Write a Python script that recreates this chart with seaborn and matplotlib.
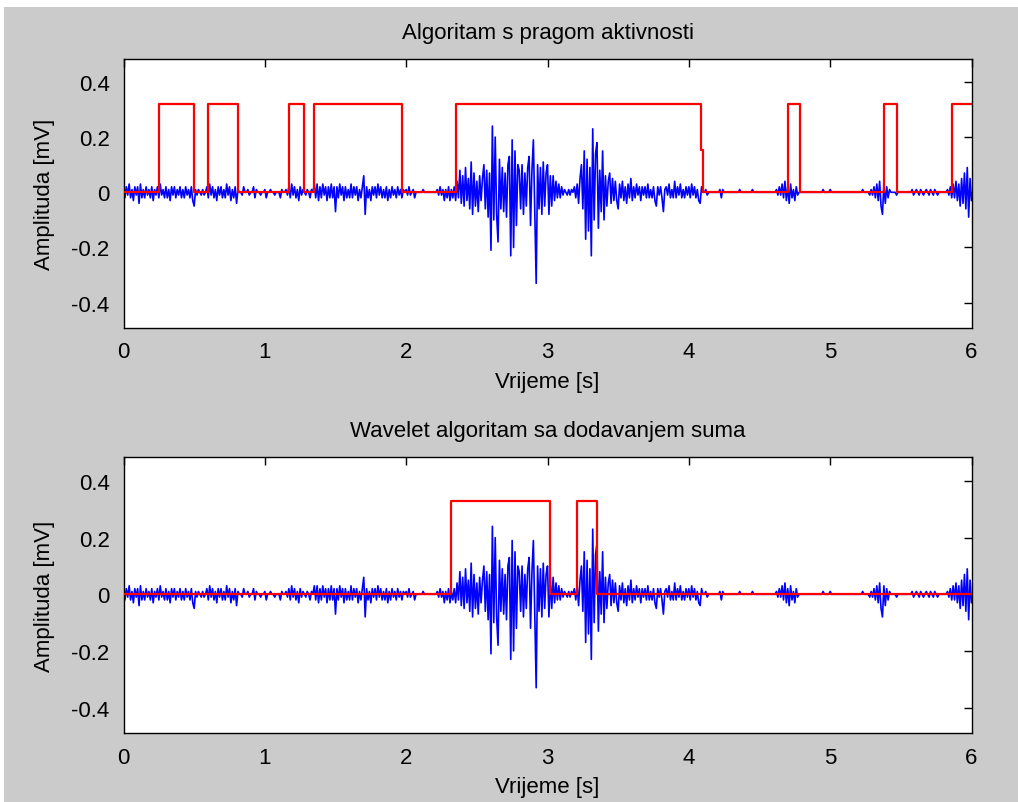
import numpy as np
import pandas as pd
import matplotlib
matplotlib.use("Agg")
import matplotlib.pyplot as plt
import seaborn as sns
from matplotlib.patches import Rectangle

# ---------------- data ----------------
sample_step = 0.01  # s
emg_signal = [
    # 0.00 - 0.49
    0.01, -0.02, 0.02, -0.01, 0.03, -0.02, 0.01, -0.03, 0.02, -0.01,
    0.02, -0.04, 0.03, -0.02, 0.01, -0.02, 0.02, -0.01, 0.01, -0.02,
    0.02, -0.03, 0.01, -0.01, 0.02, -0.02, 0.03, -0.01, 0.01, -0.02,
    0.02, -0.02, 0.01, -0.03, 0.02, -0.01, 0.02, -0.02, 0.01, -0.01,
    0.02, -0.02, 0.01, -0.02, 0.02, -0.01, 0.01, -0.02, 0.02, -0.03,
    # 0.50 - 0.99
    -0.05, 0.01, -0.01, 0.01, 0.00, -0.01, 0.01, -0.01, 0.00, 0.02,
    -0.02, 0.03, -0.01, 0.02, -0.02, 0.01, -0.03, 0.02, -0.01, 0.02,
    -0.02, 0.01, -0.02, 0.03, -0.01, 0.02, -0.03, 0.01, -0.02, 0.02,
    -0.04, 0.01, 0.00, 0.00, -0.01, 0.02, 0.00, 0.00, 0.01, -0.01,
    0.00, 0.00, 0.02, -0.02, 0.01, 0.00, 0.00, -0.01, 0.00, 0.00,
    # 1.00 - 1.49
    0.01, -0.02, 0.00, 0.00, 0.01, 0.00, 0.00, -0.01, 0.00, 0.00,
    0.00, -0.02, 0.01, 0.00, 0.00, 0.01, -0.01, 0.02, -0.02, 0.03,
    -0.01, 0.02, -0.02, 0.01, -0.03, 0.02, -0.01, 0.01, 0.00, -0.01,
    0.01, 0.00, -0.02, 0.01, 0.00, 0.03, -0.02, 0.03, -0.03, 0.02,
    -0.02, 0.03, -0.01, 0.02, -0.03, 0.02, -0.02, 0.03, -0.02, 0.02,
    # 1.50 - 1.99
    -0.07, 0.02, -0.02, 0.03, -0.01, 0.02, -0.03, 0.02, -0.02, 0.01,
    -0.02, 0.03, -0.02, 0.02, -0.01, 0.02, -0.03, 0.01, -0.02, 0.02,
    0.06, -0.08, 0.02, -0.02, 0.01, -0.03, 0.02, -0.01, 0.02, -0.02,
    0.03, -0.01, 0.02, -0.02, 0.01, -0.02, 0.02, -0.03, 0.01, -0.02,
    0.02, -0.01, 0.01, -0.02, 0.02, -0.01, 0.01, -0.02, 0.01, 0.00,
    # 2.00 - 2.49
    0.01, -0.01, 0.02, -0.01, 0.00, 0.01, -0.02, 0.00, 0.00, 0.00,
    0.00, 0.00, 0.01, 0.00, 0.00, 0.00, 0.00, 0.00, 0.00, 0.00,
    0.00, 0.00, 0.01, -0.01, 0.02, -0.01, 0.01, -0.03, 0.01, -0.02,
    0.02, -0.03, 0.01, -0.02, 0.02, -0.03, 0.04, -0.02, 0.08, -0.04,
    0.06, -0.05, 0.09, -0.03, 0.05, -0.06, 0.11, -0.08, 0.07, -0.05,
    # 2.50 - 2.99
    0.04, -0.07, 0.06, -0.03, 0.05, 0.10, -0.06, 0.08, -0.09, 0.07,
    -0.21, 0.24, -0.10, 0.20, -0.08, -0.18, 0.12, -0.06, 0.09, -0.07,
    0.07, -0.09, 0.10, 0.13, -0.23, 0.19, -0.20, 0.15, -0.12, 0.10,
    0.08, -0.06, 0.10, -0.08, 0.07, -0.05, 0.09, 0.13, -0.12, 0.08,
    0.19, -0.07, -0.33, 0.10, -0.06, 0.09, -0.08, 0.11, -0.05, 0.07,
    # 3.00 - 3.49
    0.10, -0.08, 0.06, -0.05, 0.06, -0.03, 0.04, -0.02, 0.03, -0.02,
    0.02, -0.01, 0.01, 0.00, -0.01, 0.01, -0.01, 0.01, 0.00, 0.02,
    -0.02, 0.03, -0.04, 0.05, 0.10, -0.06, 0.15, -0.17, 0.12, -0.14,
    0.09, -0.23, 0.23, -0.10, 0.14, 0.18, -0.13, 0.08, -0.07, 0.15,
    -0.10, 0.06, -0.05, 0.04, 0.07, -0.04, 0.05, -0.03, 0.04, -0.03,
    # 3.50 - 3.99
    -0.06, 0.03, -0.02, 0.04, -0.03, 0.02, -0.04, 0.03, -0.02, 0.05,
    -0.03, 0.02, -0.02, 0.03, -0.01, 0.02, -0.03, 0.02, -0.01, 0.02,
    -0.02, 0.03, -0.02, 0.01, -0.02, 0.02, -0.03, -0.05, 0.02, -0.01,
    0.02, -0.02, -0.07, 0.01, 0.02, -0.01, 0.03, -0.02, 0.01, -0.02,
    0.04, -0.02, 0.02, -0.01, 0.03, -0.02, 0.01, -0.02, 0.02, -0.01,
    # 4.00 - 4.49
    0.02, -0.02, 0.03, -0.01, 0.02, -0.02, 0.01, -0.03, -0.04, 0.02,
    0.00, 0.00, 0.01, -0.01, 0.00, 0.00, 0.00, 0.00, 0.00, 0.00,
    0.00, 0.00, 0.01, -0.02, 0.01, 0.00, 0.00, 0.00, 0.00, 0.00,
    0.00, 0.00, 0.00, 0.00, 0.00, 0.00, 0.01, 0.00, 0.00, 0.00,
    0.00, 0.00, 0.00, 0.00, 0.00, 0.01, 0.00, 0.00, 0.00, 0.00,
    # 4.50 - 4.99
    0.00, 0.00, 0.00, 0.00, 0.00, 0.00, 0.00, 0.00, 0.00, 0.00,
    0.00, 0.00, 0.01, -0.01, 0.02, -0.01, 0.03, -0.02, 0.04, -0.03,
    0.02, -0.04, 0.03, -0.02, 0.01, -0.03, 0.02, -0.01, 0.00, 0.00,
    0.00, 0.00, 0.00, 0.00, 0.00, 0.00, 0.00, 0.00, 0.00, 0.00,
    0.00, 0.00, 0.00, 0.00, 0.00, 0.01, 0.00, 0.00, 0.00, 0.00,
    # 5.00 - 5.49
    0.01, 0.00, 0.00, 0.00, 0.00, 0.00, 0.00, 0.00, 0.00, 0.00,
    0.00, 0.00, 0.00, 0.00, 0.00, 0.00, 0.00, 0.00, 0.00, 0.00,
    0.00, 0.00, 0.00, 0.01, 0.00, 0.00, 0.00, 0.00, -0.01, 0.01,
    -0.01, 0.02, -0.02, 0.03, -0.03, 0.04, -0.05, -0.08, 0.03, -0.04,
    0.02, -0.02, 0.01, 0.00, 0.00, 0.00, 0.00, -0.01, 0.00, 0.00,
    # 5.50 - 6.00
    0.00, 0.00, 0.00, 0.00, 0.00, 0.00, 0.00, 0.00, 0.01, -0.01,
    0.00, 0.01, 0.00, -0.01, 0.01, 0.00, -0.01, 0.00, 0.01, 0.00,
    -0.01, 0.01, 0.00, -0.01, 0.01, 0.00, -0.01, 0.00, 0.00, 0.00,
    0.00, 0.00, 0.00, 0.01, -0.01, 0.02, -0.02, 0.03, -0.02, 0.04,
    -0.03, 0.03, -0.05, 0.05, -0.04, 0.07, -0.06, 0.09, -0.09, 0.05,
    -0.03,
]

# threshold-based detector (top)
threshold_edges = [0.0, 0.25, 0.50, 0.60, 0.81, 1.17, 1.28, 1.35, 1.97, 2.35,
                   4.085, 4.10, 4.70, 4.79, 5.38, 5.47, 5.86, 6.0]
threshold_levels = [0.0, 0.32, 0.0, 0.32, 0.0, 0.32, 0.0, 0.32, 0.0, 0.32,
                    0.155, 0.0, 0.32, 0.0, 0.32, 0.0, 0.32, 0.32]

# wavelet detector (bottom)
wavelet_edges = [0.0, 2.32, 3.02, 3.21, 3.35, 6.0]
wavelet_levels = [0.0, 0.33, 0.0, 0.33, 0.0, 0.0]

titles = ["Algoritam s pragom aktivnosti", "Wavelet algoritam sa dodavanjem suma"]
x_label = "Vrijeme [s]"
y_label = "Amplituda [mV]"
x_ticks = [0, 1, 2, 3, 4, 5, 6]
y_ticks = [-0.4, -0.2, 0, 0.2, 0.4]
y_tick_labels = ["-0.4", "-0.2", "0", "0.2", "0.4"]

# ---------------- plotting ----------------
sns.set_style("white")
plt.rcParams["font.family"] = ["Liberation Sans Narrow", "Liberation Sans", "DejaVu Sans"]
plt.rcParams["text.color"] = "black"
plt.rcParams["axes.labelcolor"] = "black"
plt.rcParams["xtick.color"] = "black"
plt.rcParams["ytick.color"] = "black"

sig_df = pd.DataFrame({
    "t": np.arange(len(emg_signal)) * sample_step,
    "v": emg_signal,
})
top_df = pd.DataFrame({"t": threshold_edges, "v": threshold_levels})
bot_df = pd.DataFrame({"t": wavelet_edges, "v": wavelet_levels})

W, H = 1018, 803
fig = plt.figure(figsize=(W / 100, H / 100), dpi=100, facecolor="white")
fig.patches.append(Rectangle((4 / W, 0), 1 - 4 / W, 1 - 8 / H,
                             transform=fig.transFigure, facecolor="#cbcbcb",
                             edgecolor="none", zorder=-10))

left = 123.5 / W
width = (971.5 - 123.5) / W
ax_top = fig.add_axes([left, (H - 328.5) / H, width, 269 / H])
ax_bot = fig.add_axes([left, (H - 734) / H, width, 276 / H])

for ax, step_df, title in [(ax_top, top_df, titles[0]), (ax_bot, bot_df, titles[1])]:
    ax.set_facecolor("white")
    sns.lineplot(data=sig_df, x="t", y="v", ax=ax, color="#0000ff", lw=1.2,
                 estimator=None, sort=False, zorder=2)
    sns.lineplot(data=step_df, x="t", y="v", ax=ax, color="#ff0000", lw=1.6,
                 estimator=None, sort=False, drawstyle="steps-post", zorder=3)
    ax.set_xlim(0, 6)
    ax.set_ylim(-0.49, 0.485)
    ax.set_xticks(x_ticks)
    ax.set_xticklabels([str(v) for v in x_ticks])
    ax.set_yticks(y_ticks)
    ax.set_yticklabels(y_tick_labels)
    ax.tick_params(axis="x", direction="in", length=6, width=1, top=True,
                   labelsize=16, colors="black", pad=10)
    ax.tick_params(axis="y", direction="in", length=6, width=1, right=True,
                   labelsize=16, colors="black", pad=10)
    for s in ax.spines.values():
        s.set_visible(True)
        s.set_color("black")
        s.set_linewidth(1.0)
    ax.set_title(title, fontsize=16, pad=15, color="black")
    ax.set_xlabel(x_label, fontsize=16, labelpad=6, color="black")
    ax.set_ylabel(y_label, fontsize=16, labelpad=12, color="black")

fig.savefig("out.png", dpi=100, facecolor=fig.get_facecolor())
